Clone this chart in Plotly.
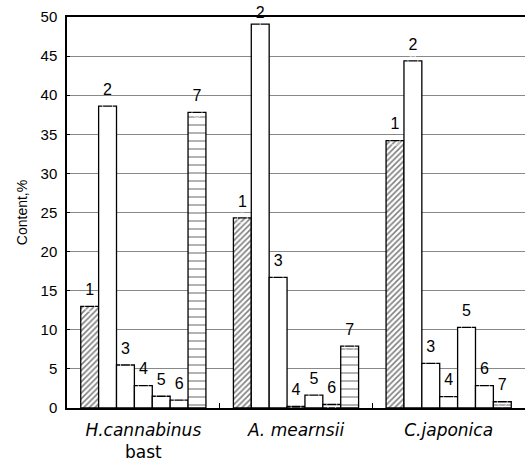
import plotly.graph_objects as go

categories = ["<i>H.cannabinus</i><br>bast", "<i>A. mearnsii</i>", "<i>C.japonica</i>"]
series_names = ["1", "2", "3", "4", "5", "6", "7"]
s1 = [13.0, 24.3, 34.2]
s2 = [38.6, 49.1, 44.4]
s3 = [5.5, 16.7, 5.7]
s4 = [2.85, 0.2, 1.45]
s5 = [1.5, 1.65, 10.3]
s6 = [1.0, 0.45, 2.85]
s7 = [37.8, 7.9, 0.8]
y_ticks = [0, 5, 10, 15, 20, 25, 30, 35, 40, 45, 50]
y_max = 50

series = [s1, s2, s3, s4, s5, s6, s7]
patterns = ["/", "", "", "", "", "", "-"]

FONT = "Liberation Sans, Arial, sans-serif"
XFONT = "DejaVu Sans, sans-serif"
fig = go.Figure()
for name, vals, pat in zip(series_names, series, patterns):
    fig.add_trace(go.Bar(
        x=categories, y=vals, name=name,
        marker=dict(color="white",
                    line=dict(color="black", width=1.3),
                    pattern=dict(shape=pat, fgcolor="black", bgcolor="white",
                                 size=4 if pat == "/" else 8,
                                 solidity=0.4 if pat == "/" else 0.15)),
        showlegend=False,
    ))
for name, vals in zip(series_names, series):
    # labels near the top of the axis sit closer to their bar so they stay on the page
    gaps = [1 if v > 0.95 * y_max else 10 for v in vals]
    fig.add_trace(go.Scatter(
        x=categories, y=vals, mode="markers+text", text=[name] * len(vals),
        textposition="top center", cliponaxis=False,
        marker=dict(size=gaps, color="rgba(0,0,0,0)"),
        textfont=dict(family=FONT, size=16, color="black"),
        showlegend=False, hoverinfo="skip",
    ))

fig.update_layout(
    width=525, height=465,
    margin=dict(l=67, r=0, t=17, b=57),
    plot_bgcolor="white", paper_bgcolor="white",
    barmode="group", bargap=0.18, bargroupgap=0,
    scattermode="group", scattergap=0.18,
    font=dict(family=FONT, color="black"),
)
fig.update_xaxes(
    showline=True, linecolor="black", linewidth=1.5, mirror=True,
    ticks="inside", tickson="boundaries", ticklen=5, tickcolor="black",
    tickfont=dict(size=17, family=XFONT), ticklabelstandoff=6, showgrid=False,
    automargin=False,
)
fig.update_yaxes(
    range=[0, y_max], tickvals=y_ticks, showline=True, linecolor="black", linewidth=1.5,
    ticks="inside", ticklen=3, tickcolor="black",
    showgrid=True, gridcolor="#888888", gridwidth=1,
    tickfont=dict(size=15), ticklabelstandoff=5,
    title=dict(text="Content,%", font=dict(size=14), standoff=10),
    zeroline=False, automargin=False,
)
fig.write_html("out.html", config={"displayModeBar": False},
               post_script="document.body.style.margin='0';")
